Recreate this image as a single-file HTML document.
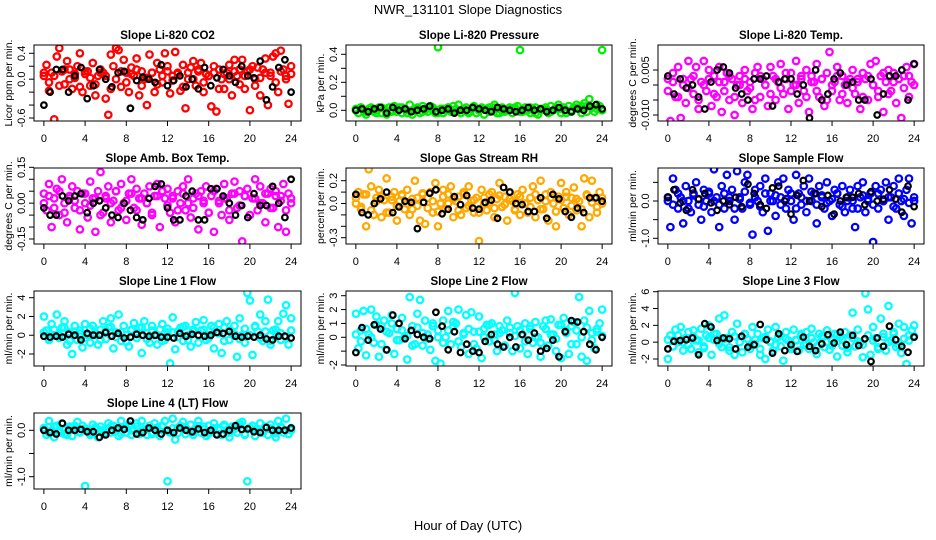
<!DOCTYPE html>
<html><head><meta charset="utf-8"><style>
body{margin:0;background:#fff;}
svg{display:block;font-family:"Liberation Sans",sans-serif;}
</style></head><body>
<svg id="c" width="936" height="540" viewBox="0 0 936 540">
<text x="468" y="14" text-anchor="middle" font-size="13">NWR_131101  Slope Diagnostics</text>
<text x="468" y="530" text-anchor="middle" font-size="13">Hour of Day (UTC)</text>
</svg>
<script>
const co2 = [0.05,0.22,-0.18,0.1,-0.62,0.35,0.48,0.12,-0.08,0.28,0.15,-0.15,0.02,0.2,0.4,-0.2,0.08,0.12,-0.1,0.25,-0.25,0.05,0.15,0.1,-0.3,-0.55,0.38,0.2,0.48,0.45,-0.12,0.3,0.1,-0.2,0.18,0.05,0.32,-0.25,0.12,0.0,-0.4,0.38,0.1,-0.2,0.25,0.15,-0.05,0.4,0.2,-0.22,0.05,0.42,0.1,-0.18,0.22,-0.45,0.0,0.18,0.28,-0.1,0.12,0.25,-0.2,0.08,0.05,-0.42,0.2,-0.5,0.15,0.0,-0.15,0.1,0.22,-0.25,0.3,0.05,0.15,0.3,-0.15,0.12,-0.48,0.2,0.0,0.18,-0.25,0.15,0.32,-0.4,0.1,0.35,0.4,-0.2,0.44,0.15,0.05,-0.38,0.2];
const co2B = [0.1,-0.05,0.05,-0.1,0.15,0.0,0.08,-0.12,0.12,0.02,-0.08,0.1,0.05,-0.15,0.0,0.12,-0.05,0.08,0.15,-0.1,0.02,0.1,-0.08,0.05,0.12,-0.02,0.08,-0.12,0.1,0.0,0.15,-0.05,0.05,0.1,-0.15,0.08,0.0,0.12,-0.08,0.05,0.15,-0.1,0.02,0.1,0.05,-0.05,0.12,0.0,0.08];
const co2Ref = [-0.4,-0.2,0.15,0.15,-0.2,0.05,0.18,-0.3,-0.1,0.15,0.0,-0.12,0.1,0.12,-0.45,-0.02,0.03,0.0,-0.05,0.22,-0.1,-0.02,0.05,-0.12,0.0,-0.15,0.18,-0.1,0.02,0.15,0.05,-0.05,0.2,0.05,0.02,0.28,-0.32,-0.12,0.18,0.3,-0.2];
const pres = [0.01,-0.02,0.02,0.0,-0.03,0.01,0.02,-0.01,0.0,0.02,-0.02,0.01,-0.03,0.02,0.0,0.03,-0.01,0.02,-0.02,0.01,0.0,0.04,-0.03,0.01,0.02,-0.02,0.03,0.0,-0.01,0.03,0.02,-0.02,0.45,0.01,-0.02,0.0,0.02,-0.01,0.03,0.01,0.04,-0.02,0.0,0.02,-0.01,0.01,0.03,-0.02,0.0,0.02,-0.03,0.01,0.02,0.0,0.04,-0.02,0.01,0.02,-0.01,0.0,0.02,-0.02,0.01,0.03,0.43,-0.01,0.02,0.0,-0.02,0.01,0.02,-0.03,0.0,0.01,0.02,-0.02,0.03,0.0,0.01,0.04,-0.02,0.02,0.0,0.03,-0.01,0.02,0.04,0.01,-0.02,0.05,0.03,0.08,0.02,-0.01,0.04,0.03,0.43];
const presB = [0.0,0.02,-0.01,0.01,-0.02,0.02,0.0,-0.01,0.01,0.02,-0.02,0.0,0.01,-0.01,0.02,0.0,-0.02,0.01,0.02,-0.01,0.0,0.01,-0.02,0.02,0.0,0.01,-0.01,0.02,-0.02,0.0,0.01,0.02,-0.01,0.0,0.02,-0.02,0.01,0.0,-0.01,0.02,0.01,-0.02,0.0,0.02,0.03,-0.01,0.02,0.01,0.0];
const presRef = [0.0,0.01,-0.01,0.01,0.02,-0.02,0.02,0.0,0.01,-0.01,0.0,0.01,0.03,-0.01,0.0,0.01,-0.02,0.0,0.0,0.02,0.01,0.0,-0.01,0.02,0.01,0.0,-0.01,0.0,0.02,0.0,0.01,-0.01,0.0,0.02,0.0,-0.01,0.01,0.0,0.03,0.04,0.01];
const liTemp = [0.002,-0.012,0.004,-0.004,0.006,-0.011,0.0,-0.006,0.008,0.002,-0.003,0.006,-0.008,0.001,0.008,-0.002,0.005,-0.007,0.003,-0.004,0.006,-0.009,0.001,0.004,-0.005,0.002,-0.01,0.0,0.003,-0.006,0.005,-0.002,0.001,-0.008,0.004,0.006,-0.004,0.002,0.0,-0.007,0.006,0.003,-0.005,0.001,0.007,-0.003,0.002,-0.008,0.004,0.0,0.008,-0.006,0.002,-0.002,0.005,-0.009,0.003,0.001,0.007,-0.004,0.002,-0.007,0.004,0.011,-0.002,0.001,0.006,-0.005,0.003,0.0,-0.006,0.002,0.005,-0.003,0.001,-0.008,0.004,0.002,-0.005,0.007,0.0,0.008,-0.004,0.003,-0.009,0.001,0.005,-0.002,0.004,-0.006,0.002,-0.011,0.003,0.006,-0.004,0.001,0.007];
const liTempB = [-0.002,0.001,-0.004,0.002,-0.001,0.003,-0.005,0.0,0.002,-0.003,0.001,-0.002,0.003,-0.004,0.0,0.002,-0.001,-0.005,0.003,0.0,-0.003,0.002,-0.001,0.004,-0.002,0.0,0.003,-0.004,0.001,-0.002,0.002,-0.005,0.0,0.003,-0.003,0.001,-0.001,0.002,-0.004,0.003,0.0,-0.002,0.004,-0.003,0.001,0.002,-0.001,0.003,0.0];
const liTempRef = [0.003,-0.003,0.002,-0.001,0.0,-0.004,-0.008,0.001,0.005,0.006,0.004,-0.001,-0.003,-0.005,0.002,0.002,0.003,-0.007,0.001,0.002,0.002,-0.003,0.0,-0.011,0.005,-0.005,-0.003,0.002,0.004,0.0,0.001,-0.005,-0.005,0.002,-0.01,-0.003,0.003,0.003,0.005,-0.005,0.007];
const boxTemp = [0.04,-0.03,0.08,-0.1,0.02,0.06,-0.05,0.1,0.0,-0.08,0.03,0.07,-0.02,0.05,-0.11,0.04,0.0,-0.06,0.09,0.02,-0.12,0.05,0.13,-0.04,0.02,0.07,-0.08,0.01,0.05,-0.03,0.08,0.0,-0.07,0.04,0.1,-0.02,0.06,0.02,-0.09,0.04,0.0,0.07,-0.05,0.03,0.08,-0.1,0.05,0.02,0.06,-0.04,0.03,-0.08,0.05,0.0,0.07,-0.03,0.1,-0.06,0.02,0.04,-0.11,0.05,0.0,0.07,-0.04,0.03,-0.12,0.06,0.01,-0.05,0.08,0.02,-0.07,0.04,0.09,-0.02,0.05,-0.16,0.03,0.06,-0.05,0.02,0.1,-0.03,0.07,0.0,-0.08,0.04,0.06,-0.02,0.05,-0.1,0.03,0.08,-0.12,0.04,0.0];
const boxTempB = [0.0,0.03,-0.02,0.05,-0.04,0.02,0.01,-0.03,0.04,-0.01,0.02,-0.05,0.03,0.0,0.05,-0.02,0.01,0.04,-0.03,0.02,0.0,-0.04,0.03,0.05,-0.01,0.02,-0.03,0.04,0.0,-0.02,0.03,0.01,-0.04,0.05,0.0,0.02,-0.03,0.04,-0.01,0.03,-0.05,0.02,0.0,0.04,-0.02,0.03,0.01,-0.03,0.02];
const boxTempRef = [-0.02,-0.05,-0.05,0.03,0.01,0.03,0.04,-0.04,0.0,0.01,-0.02,-0.05,-0.06,0.0,-0.03,-0.06,-0.07,0.02,0.07,0.08,-0.02,-0.07,-0.07,0.03,0.05,-0.07,-0.07,0.06,0.06,0.03,0.0,-0.05,-0.01,-0.06,0.04,-0.01,-0.01,0.07,0.0,-0.06,0.1];
const rh = [0.0,0.1,-0.05,0.08,-0.2,0.3,0.15,-0.1,0.05,0.12,-0.12,0.03,0.22,-0.08,0.06,0.1,-0.15,0.02,0.08,-0.05,0.12,-0.1,0.04,0.2,-0.02,-0.15,0.08,-0.18,0.05,0.1,-0.08,0.18,-0.2,0.0,0.12,-0.05,0.08,0.15,-0.12,0.02,0.06,-0.1,0.1,-0.04,0.15,0.02,-0.08,0.05,-0.33,0.12,0.0,-0.06,0.08,0.1,-0.12,0.04,0.18,-0.03,0.06,-0.15,0.1,0.02,-0.05,0.08,-0.1,0.12,0.0,-0.08,0.05,0.15,-0.12,0.03,0.2,-0.05,0.08,-0.15,0.1,0.0,-0.2,0.06,0.18,-0.04,0.1,-0.1,0.05,0.14,-0.06,0.02,-0.2,0.22,0.08,-0.12,0.2,0.05,-0.08,0.1,0.0];
const rhB = [0.05,-0.03,0.08,-0.06,0.02,0.06,-0.08,0.03,-0.02,0.07,0.0,-0.05,0.05,0.09,-0.04,0.02,-0.07,0.06,0.0,0.04,-0.06,0.08,-0.02,0.03,-0.08,0.05,0.01,-0.04,0.07,-0.01,0.04,-0.06,0.06,0.0,-0.03,0.08,-0.05,0.02,0.05,-0.07,0.03,0.06,-0.02,0.04,-0.05,0.07,0.01,-0.03,0.05];
const rhRef = [0.08,-0.08,-0.1,0.0,0.04,0.1,-0.08,-0.03,0.02,0.01,-0.22,0.01,0.09,0.12,-0.09,-0.05,0.06,-0.01,0.07,-0.04,-0.05,0.01,0.03,-0.13,0.14,0.1,0.0,-0.01,-0.07,-0.07,0.05,-0.13,0.08,0.04,-0.07,-0.12,-0.04,-0.08,0.05,0.05,0.02];
const sFlow = [0.0,-0.7,0.6,0.3,-0.2,0.1,-0.6,0.4,0.0,-0.3,0.2,0.5,-0.1,-0.5,0.3,0.0,0.2,-0.3,0.85,0.1,-0.7,0.4,-0.2,0.7,0.0,0.3,-0.5,0.8,0.1,-0.2,0.5,0.7,-0.1,-0.9,0.3,0.0,0.4,-0.3,0.6,-0.8,0.2,0.0,-0.4,0.5,0.1,0.6,-0.2,0.3,0.0,-0.5,0.7,0.2,-0.1,0.4,-0.3,0.6,0.0,0.2,-0.6,0.4,0.1,-0.2,0.5,0.0,-0.4,0.3,0.2,-0.1,0.4,-0.3,0.0,0.3,-0.2,-0.7,0.4,0.1,0.5,-0.3,0.0,0.2,-1.1,0.4,-0.2,0.3,0.0,0.5,-0.5,0.1,0.4,-0.2,0.6,0.0,-0.4,0.3,0.6,-0.6,0.0];
const sFlowB = [0.1,-0.1,0.2,0.0,-0.2,0.15,0.05,-0.15,0.25,0.0,-0.1,0.2,0.1,-0.2,0.05,0.25,-0.05,0.1,-0.15,0.2,0.0,0.15,-0.1,0.05,0.2,-0.2,0.1,0.0,0.25,-0.1,0.15,-0.05,0.05,0.2,-0.15,0.1,0.0,-0.2,0.15,0.05,-0.1,0.2,0.0,0.1,-0.15,0.2,0.05,-0.05,0.1];
const sFlowRef = [0.1,0.3,-0.05,-0.25,0.3,0.05,0.2,-0.05,-0.25,0.0,-0.1,0.1,-0.15,0.45,0.2,-0.1,-0.2,0.35,0.4,0.0,-0.35,0.15,0.55,0.0,0.2,-0.15,0.15,-0.35,0.0,0.1,0.1,0.2,-0.1,0.25,0.0,0.05,0.3,0.05,-0.3,0.4,-0.15];
const l1 = [2.0,0.5,-0.5,1.2,0.0,2.2,-0.3,0.8,1.5,-1.0,0.3,-2.0,1.0,-0.5,0.5,-1.3,1.2,0.0,-0.8,1.0,0.2,-1.0,0.6,1.5,-0.4,0.8,1.8,-1.4,0.3,2.2,-0.6,1.0,0.0,-1.2,0.5,1.3,-0.3,0.8,-1.9,1.5,0.2,-0.8,1.0,0.0,-1.0,0.6,1.2,-0.5,0.3,-3.0,1.9,-1.5,0.4,0.8,-0.6,1.0,0.0,-1.2,0.6,1.4,-0.8,0.5,1.6,-0.5,0.0,1.0,-1.4,0.3,1.2,-1.9,0.8,1.5,-0.5,0.2,1.0,-2.3,1.8,0.0,-0.8,4.5,3.7,-2.1,1.0,0.4,2.2,-0.6,1.5,3.8,-1.0,0.5,0.2,1.5,-0.5,2.3,3.2,-1.0,1.8];
const l1B = [0.3,-0.4,0.6,0.0,0.8,-0.6,0.4,0.2,-0.3,0.7,0.0,-0.5,0.5,0.9,-0.2,0.3,-0.7,0.6,0.1,0.8,-0.4,0.5,0.0,-0.6,0.7,0.3,-0.2,0.9,-0.5,0.4,0.0,0.6,-0.3,0.8,0.2,-0.6,0.5,0.1,-0.4,0.7,0.0,0.9,-0.3,0.4,-0.6,0.6,0.2,-0.2,0.5];
const l1Ref = [-0.1,-0.2,-0.1,-0.2,0.1,0.0,-0.5,0.2,0.0,0.0,0.3,-0.1,0.2,-0.3,-0.2,0.1,0.0,-0.1,0.0,-0.2,-0.2,-0.3,0.2,-0.1,0.1,0.0,-0.1,0.0,0.3,0.2,0.4,-0.1,-0.2,-0.1,-0.2,0.0,-0.4,-0.5,-0.1,-0.1,-0.3];
const l2 = [1.7,-0.8,0.5,1.9,-1.3,0.2,2.0,-0.4,1.5,-1.4,0.8,1.2,-0.9,0.3,1.6,-1.2,0.6,-0.2,1.4,0.0,-1.6,2.9,0.8,-0.5,1.7,2.7,-0.6,1.2,0.2,-0.9,1.0,-1.7,0.5,-1.9,1.2,0.0,1.9,-0.5,0.8,1.0,2.0,-0.7,0.3,1.6,-1.2,1.8,0.4,-0.8,1.5,-1.5,0.6,0.9,-0.3,1.0,0.2,-1.0,0.8,0.5,-0.6,1.2,0.3,-1.0,3.2,0.8,-0.8,0.2,1.0,-1.2,0.6,-0.4,1.1,0.0,-1.4,0.8,1.2,-0.6,1.3,0.2,-1.0,0.9,-1.5,1.4,0.5,-1.2,0.8,1.1,-0.5,2.9,-1.4,1.2,-1.7,1.9,0.3,-0.8,0.6,1.0,2.0];
const l2B = [0.2,-0.3,0.6,0.0,0.9,-0.5,0.4,1.0,-0.2,0.5,0.1,-0.6,0.7,0.3,-0.1,0.8,0.0,-0.4,0.5,1.1,-0.3,0.2,0.6,-0.5,0.4,0.0,0.9,-0.2,0.3,-0.6,0.7,0.1,0.5,-0.3,0.8,0.0,-0.4,0.6,0.2,-0.1,0.9,0.3,-0.5,0.5,0.0,0.7,-0.2,0.4,0.1];
const l2Ref = [-1.1,0.7,-0.2,0.9,0.6,-0.9,1.6,1.0,-0.1,0.5,0.2,0.0,-0.1,1.8,0.8,-0.9,0.4,-1.1,-0.5,-1.0,-1.1,-0.3,0.2,-0.5,-0.7,0.0,-0.7,0.2,-0.2,0.3,-1.0,-0.8,-0.2,-1.4,0.4,1.2,1.1,0.4,-0.5,-0.9,0.0];
const l3 = [-2.0,0.8,-0.5,1.5,0.0,1.8,-1.0,0.5,1.2,-0.8,1.4,0.2,-1.2,1.6,-0.5,0.8,2.0,-1.5,0.3,1.0,2.8,-0.6,3.2,0.5,-1.0,1.2,-1.5,2.2,0.0,-1.2,1.0,0.4,-0.8,1.8,-0.2,1.0,-1.5,0.5,-2.0,1.5,0.0,-1.0,1.8,0.6,-0.5,-2.2,1.2,0.2,-0.8,1.5,0.3,-1.0,0.8,-0.3,1.2,-0.8,1.6,0.0,-1.4,1.0,0.5,-0.6,1.4,-0.9,0.2,1.0,-1.7,0.6,-0.4,1.2,-1.2,0.8,3.5,-0.5,1.5,0.0,-1.8,5.8,3.9,-1.5,1.8,0.5,-0.8,2.8,1.0,-1.0,4.3,0.2,1.2,-0.6,2.2,-1.3,1.8,-2.6,0.8,1.4,2.0];
const l3B = [0.3,-0.5,0.8,0.0,-0.3,0.6,0.2,-0.7,0.5,1.0,-0.2,0.4,-0.6,0.7,0.0,0.9,-0.4,0.3,-0.8,0.6,0.1,-0.3,0.8,0.4,-0.6,0.2,1.0,-0.2,0.5,-0.5,0.7,0.0,-0.4,0.9,0.3,-0.7,0.5,0.1,-0.3,0.8,0.2,-0.6,0.6,0.0,1.0,-0.4,0.4,0.2,0.7];
const l3Ref = [-0.8,0.1,0.2,0.3,0.5,-1.5,2.2,1.8,0.2,0.5,0.4,-0.8,0.7,-0.6,-0.3,2.1,0.3,-1.3,1.0,-1.0,-0.3,-1.1,0.6,-0.5,-1.0,-0.2,0.9,-0.1,1.2,-0.3,0.8,-0.4,0.4,-2.3,0.5,-0.5,1.9,0.3,-0.5,-1.2,0.6];
const l4 = [0.05,-0.1,0.2,0.0,-0.15,0.1,-0.05,0.15,0.0,-0.1,0.08,-0.12,0.05,0.18,-0.05,0.1,-1.2,0.0,-0.1,0.12,0.02,-0.15,0.08,0.0,-0.08,0.15,-0.05,0.1,0.0,-0.12,0.2,0.05,-0.05,0.12,-0.1,0.0,0.15,-0.08,0.2,0.02,-0.1,0.1,-0.05,0.15,0.0,-0.12,0.08,0.2,-1.1,-0.05,0.25,-0.2,0.05,0.1,0.18,-0.08,0.0,0.12,-0.1,0.05,0.2,-0.05,0.08,-0.12,0.1,0.0,0.15,-0.08,0.05,-0.1,0.12,0.0,-0.15,0.08,0.05,-0.05,0.15,0.18,-0.1,-1.1,0.05,0.1,-0.12,0.0,0.15,-0.05,0.08,-0.1,0.12,0.0,-0.15,0.2,0.05,-0.05,0.25,-0.08,0.0];
const l4B = [0.02,-0.05,0.08,0.0,-0.08,0.05,0.1,-0.03,0.04,-0.06,0.07,0.0,-0.04,0.09,0.02,-0.07,0.05,0.0,0.08,-0.05,0.03,-0.08,0.06,0.1,-0.02,0.04,-0.06,0.07,0.0,-0.04,0.09,0.02,-0.07,0.05,0.0,0.08,-0.05,0.03,0.1,-0.08,0.06,0.0,-0.03,0.07,0.04,-0.06,0.08,0.0,0.05];
const l4Ref = [0.0,-0.05,-0.08,0.15,0.0,0.0,0.02,-0.03,-0.03,-0.15,-0.1,0.0,0.05,0.02,0.2,-0.08,-0.05,0.05,0.0,-0.08,0.0,-0.05,0.05,0.0,-0.03,0.03,-0.05,0.0,-0.1,-0.08,0.0,0.1,0.02,0.03,-0.03,-0.05,0.06,0.0,0.0,0.0,0.05];
const xTicks = [0,4,8,12,16,20,24];
const titles = ["Slope Li-820 CO2","Slope Li-820 Pressure","Slope Li-820 Temp.","Slope Amb. Box Temp.","Slope Gas Stream RH","Slope Sample Flow","Slope Line 1 Flow","Slope Line 2 Flow","Slope Line 3 Flow","Slope Line 4 (LT) Flow"];
const yTitles = ["Licor ppm per min.","kPa per min.","degrees C per min.","degrees C per min.","percent per min.","ml/min per min.","ml/min per min.","ml/min per min.","ml/min per min.","ml/min per min."];
const yTicks = [[-0.6,-0.4,-0.2,0,0.2,0.4],[0,0.1,0.2,0.3,0.4],[-0.01,-0.005,0,0.005],[-0.15,-0.1,-0.05,0,0.05,0.1,0.15],[-0.3,-0.2,-0.1,0,0.1,0.2],[-1,-0.5,0,0.5],[-2,0,2,4],[-2,-1,0,1,2,3],[-2,0,2,4,6],[-1,-0.5,0]];
const yLabels = [[[0.4,"0.4"],[0,"0.0"],[-0.6,"-0.6"]],[[0,"0.0"],[0.2,"0.2"],[0.4,"0.4"]],[[0.005,"0.005"],[-0.01,"-0.010"]],[[0.15,"0.15"],[0,"0.00"],[-0.15,"-0.15"]],[[0.2,"0.2"],[0,"0.0"],[-0.3,"-0.3"]],[[0,"0.0"],[-1,"-1.0"]],[[4,"4"],[2,"2"],[0,"0"],[-2,"-2"]],[[3,"3"],[2,"2"],[1,"1"],[0,"0"],[-2,"-2"]],[[6,"6"],[4,"4"],[2,"2"],[0,"0"],[-2,"-2"]],[[0,"0.0"],[-1,"-1.0"]]];
const mains = [co2,pres,liTemp,boxTemp,rh,sFlow,l1,l2,l3,l4];
const extras = [co2B,presB,liTempB,boxTempB,rhB,sFlowB,l1B,l2B,l3B,l4B];
const refs = [co2Ref,presRef,liTempRef,boxTempRef,rhRef,sFlowRef,l1Ref,l2Ref,l3Ref,l4Ref];
const colors = ["#ff0000","#00ee00","#ff00ff","#ff00ff","#ffa800","#0000ff","#00ffff","#00ffff","#00ffff","#00ffff"];
const names = ["co2","pressure","li-temp","box-temp","rh","sample-flow","line1-flow","line2-flow","line3-flow","line4-flow"];

// layout / pixel calibration (not data)
const cols=[[34,301],[346,612],[658,924]], rows=[[45,121],[168,244],[291,366],[413,489]];
const cal=[[0.4,53.3,-0.6,118],[0.4,54.3,0,110.3],[0.005,70,-0.01,115],[0.15,167.3,-0.15,239],[0.2,180.7,-0.3,237.7],[0,201,-1,238.3],[4,297.7,-2,354],[3,295.7,-2,365],[6,291.7,-2,359],[0,430.3,-1,476.7]];
const svg=document.getElementById('c'), NS='http://www.w3.org/2000/svg';
function mk(tag,attrs,parent){const e=document.createElementNS(NS,tag);for(const k in attrs)e.setAttribute(k,attrs[k]);(parent||svg).appendChild(e);return e;}
mains.forEach((series,p)=>{
  const [L,R]=cols[p%3], [T,B]=rows[Math.floor(p/3)];
  const g=mk('g',{});
  
  
  const pxu=(R-L)/25.92;
  const xs=h=>L+(h+0.96)*pxu;
  const c=cal[p], ys=v=>c[1]+(v-c[0])*(c[3]-c[1])/(c[2]-c[0]);
  const clip='cl'+p;
  const cp=mk('clipPath',{id:clip},g); mk('rect',{x:L,y:T,width:R-L,height:B-T},cp);
  const pg=mk('g',{'clip-path':'url(#'+clip+')'},g);
  [series,extras[p]].forEach(arr=>{
    arr.forEach((v,i)=>{
      const h=i*24/(arr.length-1);
      const e=mk('circle',{cx:xs(h).toFixed(1),cy:ys(v).toFixed(1),r:3.2,fill:'none',stroke:colors[p],'stroke-width':2.3},pg);
      
      
    });
  });
  refs[p].forEach((v,i)=>{
    const h=i*24/(refs[p].length-1);
    const e=mk('circle',{cx:xs(h).toFixed(1),cy:ys(v).toFixed(1),r:2.8,fill:'none',stroke:'#000','stroke-width':2.2},pg);
    
    
  });
  const box=mk('rect',{x:L,y:T,width:R-L,height:B-T,fill:'none',stroke:'#000','stroke-width':1},g);
  
  
  const t=mk('text',{x:(L+R)/2,y:T-6,'text-anchor':'middle','font-size':11.5,'font-weight':'bold'},g);
  t.textContent=titles[p];
  
  
  xTicks.forEach(h=>{
    const x=xs(h);
    mk('line',{x1:x,x2:x,y1:B,y2:B+5,stroke:'#000'},g);
    const tl=mk('text',{x:x,y:B+21,'text-anchor':'middle','font-size':11},g);
    tl.textContent=h;
    
    
  });
  yTicks[p].forEach(v=>{const y=ys(v);mk('line',{x1:L-5,x2:L,y1:y,y2:y,stroke:'#000'},g);});
  yLabels[p].forEach(([v,s])=>{
    const y=ys(v), x=L-9;
    const yl=mk('text',{x:x,y:y,'text-anchor':'middle','font-size':11,transform:`rotate(-90 ${x} ${y})`},g);
    yl.textContent=s;
    
    
  });
  const yx=L-22, yc=(T+B)/2;
  const yt=mk('text',{x:yx,y:yc,'text-anchor':'middle','font-size':10.5,transform:`rotate(-90 ${yx} ${yc})`},g);
  yt.textContent=yTitles[p];
  
  
});
</script>
</body></html>
